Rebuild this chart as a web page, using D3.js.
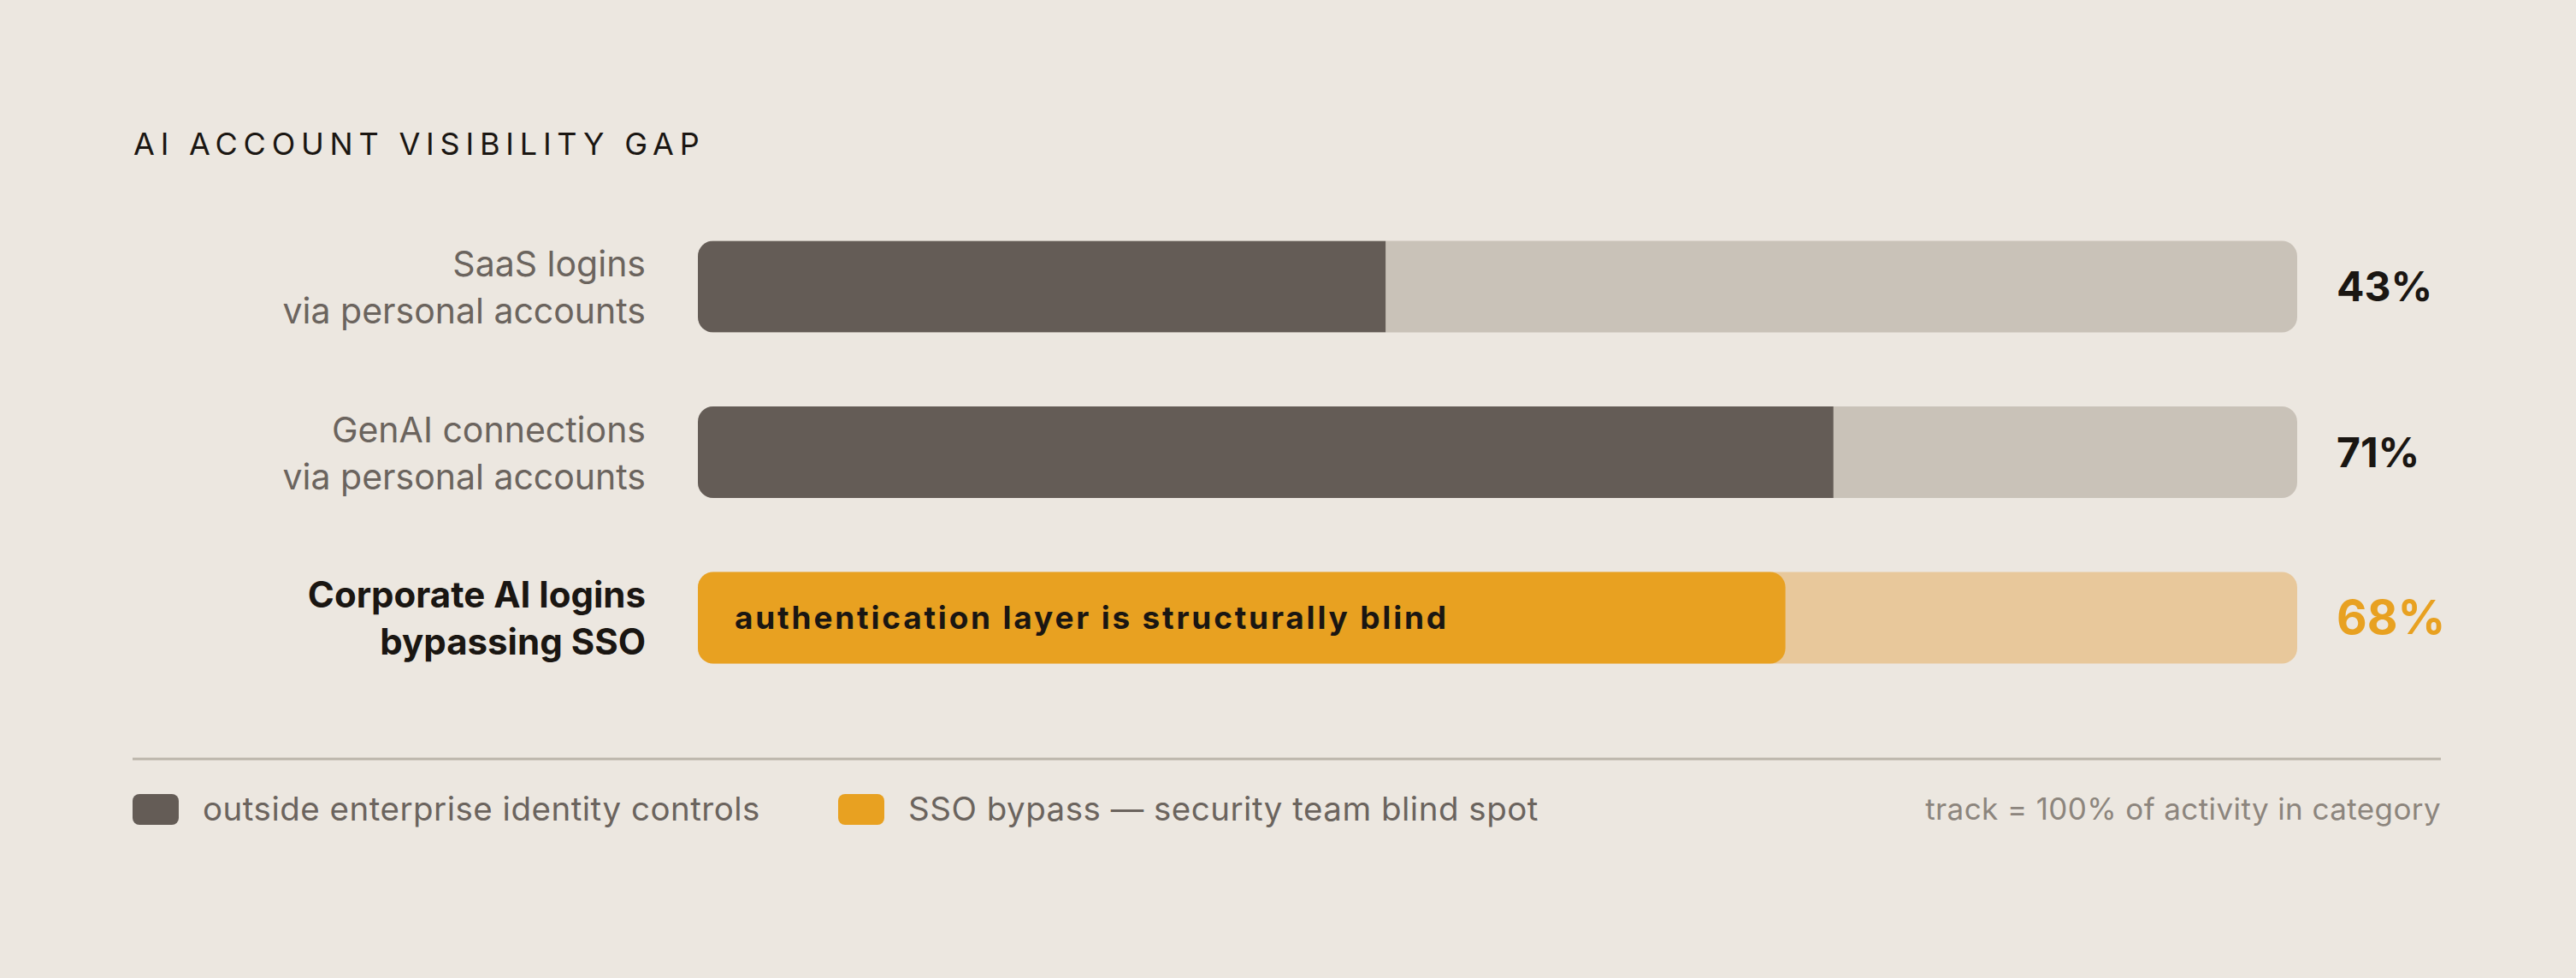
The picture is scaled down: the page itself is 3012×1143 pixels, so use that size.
<!DOCTYPE html>
<html>
<head>
<meta charset="utf-8">
<script src="https://cdn.jsdelivr.net/npm/d3@7"></script>
<style>
  html, body { margin: 0; padding: 0; background: #ECE7E0; }
  svg { display: block; font-family: Inter, "Noto Sans", sans-serif; }
</style>
</head>
<body>
<div id="chart"></div>
<script>
// data
const categories = ["saas", "genai", "corp"];
const labelLines = [
  ["SaaS logins", "via personal accounts"],
  ["GenAI connections", "via personal accounts"],
  ["Corporate AI logins", "bypassing SSO"]
];
const values = [43, 71, 68];
const highlighted = [false, false, true];
const barNotes = ["", "", "authentication layer is structurally blind"];
const legendLabels = ["outside enterprise identity controls", "SSO bypass \u2014 security team blind spot"];
const footNote = "track = 100% of activity in category";
const title = "AI ACCOUNT VISIBILITY GAP";

const W = 3012, H = 1143;
const colors = {
  bg: "#ECE7E0", track: "#C9C2B8", dark: "#645C56",
  orange: "#E8A121", orangeTrack: "#E8C89B",
  label: "#6B645E", ink: "#1A1612", note: "#8C857D", rule: "#BBB5AA"
};

const svg = d3.select("#chart").append("svg")
  .attr("width", W).attr("height", H);

svg.append("rect").attr("width", W).attr("height", H).attr("fill", colors.bg);

// title
svg.append("text")
  .attr("x", 156).attr("y", 181)
  .attr("font-size", 36)
  .attr("letter-spacing", "6.8px")
  .attr("fill", colors.ink)
  .text(title);

const x = d3.scaleLinear().domain([0, 100]).range([816, 2686]);
const y = d3.scalePoint().domain(categories).range([335, 722]);
const barH = 107, r = 18;

const defs = svg.append("defs");

const rows = svg.selectAll("g.row")
  .data(categories)
  .join("g")
    .attr("class", "row")
    .attr("transform", d => `translate(0, ${y(d)})`);

rows.each(function(d, i) {
  const g = d3.select(this);
  const hl = highlighted[i];

  defs.append("clipPath").attr("id", "clip" + i)
    .append("rect")
      .attr("x", x(0)).attr("y", -barH / 2)
      .attr("width", x(100) - x(0)).attr("height", barH)
      .attr("rx", r);

  // track
  g.append("rect")
    .attr("x", x(0)).attr("y", -barH / 2)
    .attr("width", x(100) - x(0)).attr("height", barH)
    .attr("rx", r)
    .attr("fill", hl ? colors.orangeTrack : colors.track);

  // value fill
  if (hl) {
    g.append("rect")
      .attr("x", x(0)).attr("y", -barH / 2)
      .attr("width", x(values[i]) - x(0)).attr("height", barH)
      .attr("rx", r)
      .attr("fill", colors.orange);
  } else {
    g.append("rect")
      .attr("clip-path", `url(#clip${i})`)
      .attr("x", x(0)).attr("y", -barH / 2)
      .attr("width", x(values[i]) - x(0)).attr("height", barH)
      .attr("fill", colors.dark);
  }

  if (barNotes[i]) {
    g.append("text")
      .attr("x", x(0) + 43).attr("y", 13)
      .attr("font-size", 37).attr("font-weight", 700)
      .attr("letter-spacing", "2.8px")
      .attr("fill", colors.ink)
      .text(barNotes[i]);
  }

  // category label, two lines
  const lbl = g.append("text")
    .attr("text-anchor", "end")
    .attr("font-size", hl ? 42 : 41)
    .attr("font-weight", hl ? 700 : 400)
    .attr("fill", hl ? colors.ink : colors.label);
  labelLines[i].forEach((line, k) => {
    lbl.append("tspan").attr("x", 755).attr("y", -12 + k * 55).text(line);
  });

  // value label
  g.append("text")
    .attr("x", 2732).attr("y", hl ? 19 : 17)
    .attr("font-size", hl ? 55 : 48)
    .attr("font-weight", 700)
    .attr("fill", hl ? colors.orange : colors.ink)
    .text(values[i] + "%");
});

// divider
svg.append("line")
  .attr("x1", 155).attr("x2", 2854)
  .attr("y1", 887).attr("y2", 887)
  .attr("stroke", colors.rule).attr("stroke-width", 3);

// legend
const legendX = [155, 980];
const legendColors = [colors.dark, colors.orange];
const leg = svg.selectAll("g.leg")
  .data(legendLabels)
  .join("g")
    .attr("class", "leg")
    .attr("transform", (d, i) => `translate(${legendX[i]}, 946)`);
leg.append("rect")
  .attr("x", 0).attr("y", -18).attr("width", 54).attr("height", 36)
  .attr("rx", 8)
  .attr("fill", (d, i) => legendColors[i]);
leg.append("text")
  .attr("x", 82).attr("y", 13)
  .attr("font-size", 38.5)
  .attr("letter-spacing", "0.5px")
  .attr("fill", colors.label)
  .text(d => d);

svg.append("text")
  .attr("x", 2854).attr("y", 958)
  .attr("text-anchor", "end")
  .attr("font-size", 35)
  .attr("letter-spacing", "0.4px")
  .attr("fill", colors.note)
  .text(footNote);
</script>
</body>
</html>
